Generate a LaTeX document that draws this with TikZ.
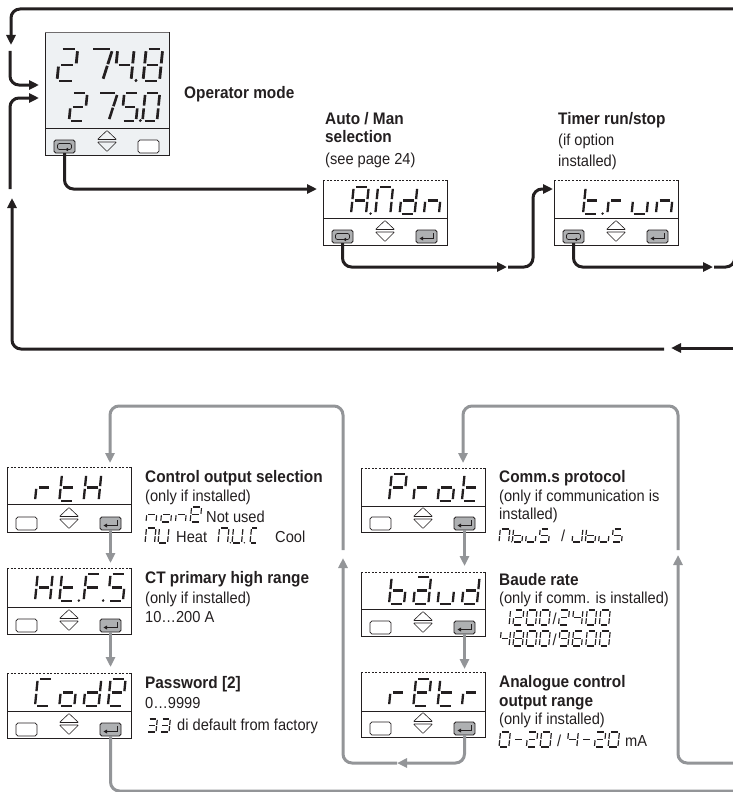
\documentclass[tikz,border=0pt]{standalone}
\usepackage{fontspec}
\setmainfont[FakeStretch=0.92]{Liberation Sans}
\usetikzlibrary{arrows.meta}
\definecolor{ink}{HTML}{231F20}
\definecolor{midgray}{HTML}{939598}
\definecolor{keygray}{HTML}{AEB0B2}
\definecolor{panel}{HTML}{EEF1F3}
% seven-segment display glyphs
\newcommand\lcdchar[2]{\expandafter\def\csname lcd:#1\endcsname{#2}}
\expandafter\def\csname seg:a\endcsname{\draw (.14,2)--(.86,2);}
\expandafter\def\csname seg:b\endcsname{\draw (1,1.86)--(1,1.1);}
\expandafter\def\csname seg:c\endcsname{\draw (1,.9)--(1,.14);}
\expandafter\def\csname seg:d\endcsname{\draw (.14,0)--(.86,0);}
\expandafter\def\csname seg:e\endcsname{\draw (0,.9)--(0,.14);}
\expandafter\def\csname seg:f\endcsname{\draw (0,1.86)--(0,1.1);}
\expandafter\def\csname seg:g\endcsname{\draw (.16,1)--(.84,1);}
\expandafter\def\csname seg:p\endcsname{\fill (1.3,.03) circle[radius=.6\pgflinewidth];}
% the leaning strokes of the large 7
\expandafter\def\csname seg:h\endcsname{\draw (0,2)--(.88,2);}
\expandafter\def\csname seg:i\endcsname{\draw (1,1.86)--(.85,1.05);}
\expandafter\def\csname seg:j\endcsname{\draw (.83,.95)--(.68,.14);}
\lcdchar{sp}{}
\lcdchar{0}{a,b,c,d,e,f}\lcdchar{1}{b,c}\lcdchar{2}{a,b,g,e,d}\lcdchar{3}{a,b,g,c,d}
\lcdchar{4}{f,g,b,c}\lcdchar{5}{a,f,g,c,d}\lcdchar{6}{a,f,g,e,c,d}\lcdchar{7}{h,i,j}
\lcdchar{8}{a,b,c,d,e,f,g}\lcdchar{9}{a,b,c,d,f,g}
\lcdchar{4.}{f,g,b,c,p}\lcdchar{5.}{a,f,g,c,d,p}
\lcdchar{A.}{a,b,c,e,f,g,p}\lcdchar{M}{a,b,c,e,f}\lcdchar{M.}{a,b,c,e,f,p}
\lcdchar{U}{b,c,d,e,f}\lcdchar{U.}{b,c,d,e,f,p}\lcdchar{C}{a,d,e,f}
\lcdchar{E}{a,b,d,e,f,g}\lcdchar{F.}{a,e,f,g,p}\lcdchar{H}{b,c,e,f,g}\lcdchar{J}{b,c,d,e}
\lcdchar{P}{a,b,e,f,g}\lcdchar{S}{a,f,g,c,d}
\lcdchar{a}{a,b,c,d,e,g}\lcdchar{b}{c,d,e,f,g}\lcdchar{d}{b,c,d,e,g}\lcdchar{n}{c,e,g}
\lcdchar{o}{c,d,e,g}\lcdchar{r}{e,g}\lcdchar{t}{d,e,f,g}\lcdchar{t.}{d,e,f,g,p}
\lcdchar{u}{c,d,e}\lcdchar{minus}{g}
% #1 line width, #2 x, #3 baseline y, #4 pitch, #5 glyph width, #6 glyph height, #7 characters
\newcommand\lcdstr[7]{%
  \begin{scope}[shift={(#2,#3)},xslant=.1,x=#5pt,y=#6pt/2,line width=#1pt,draw=ink,fill=ink]
    \foreach \lc [count=\li from 0] in {#7}{%
      \begin{scope}[xshift=\li*#4pt]
        \edef\seglist{\csname lcd:\lc\endcsname}%
        \foreach \ls in \seglist {\csname seg:\ls\endcsname}%
      \end{scope}}
  \end{scope}}
\newcommand\slots[3]{\lcdstr{2.3}{#1}{#2}{24.3}{15}{27}{#3}}
% keys
\tikzset{
  key/.style={draw=ink,line width=.9pt,rounded corners=1.8pt,minimum width=21pt,minimum height=13pt,inner sep=0pt,outer sep=0pt},
  blackflow/.style={draw=ink,line width=3pt,rounded corners=9pt},
  grayflow/.style={draw=midgray,line width=3pt,rounded corners=9pt},
  blackarrow/.style={blackflow,-{Triangle[length=10pt,width=9pt]}},
  grayarrow/.style={grayflow,-{Triangle[length=10pt,width=9pt]}},
  head/.style={anchor=base west,inner sep=0pt,font=\fontsize{16.7}{18}\selectfont\bfseries,text=ink},
  body/.style={anchor=base west,inner sep=0pt,font=\fontsize{15.9}{18}\selectfont,text=ink},
}
\newcommand\keyblank[3]{\node[key,fill=white,line width=.7pt,draw=ink] (#1) at (#2,#3) {};}
\newcommand\keyloop[3]{\node[key,fill=keygray] (#1) at (#2,#3) {};
  \draw[ink,line width=.7pt,rounded corners=2pt] (#2+1,#3+3)--(#2-7,#3+3)--(#2-7,#3-3)--(#2+7,#3-3)--(#2+7,#3+3)--(#2+3,#3+3);
  \fill[ink] (#2+.5,#3+3)--(#2+3.5,#3+1.2)--(#2+3.5,#3+4.8)--cycle;}
\newcommand\keyenter[3]{\node[key,fill=keygray] (#1) at (#2,#3) {};
  \draw[ink,line width=.8pt] (#2+6.5,#3-3.5)--(#2+6.5,#3+2)--(#2-4,#3+2);
  \fill[ink] (#2-7,#3+2)--(#2-3.5,#3)--(#2-3.5,#3+4)--cycle;}
% #1 name #2 x #3 top #4 divider #5 bottom #6/#7 left and right key #8 fill #9 top-edge style
\newcommand\device[9]{%
  \node[fill=#8,minimum width=124pt,minimum height=#5pt-#3pt,inner sep=0pt,outer sep=0pt,anchor=north west] (#1) at (#2,#3) {};
  \draw[ink,line width=.7pt] (#1.north west)--(#1.south west)--(#1.south east)--(#1.north east);
  \draw[ink,line width=.7pt] (#2,#4)--(#2+124,#4);
  \draw[ink,#9] (#1.north west)--(#1.north east);
  \csname key#6\endcsname{#1-l}{#2+19.5}{#5-8.5}
  \csname key#7\endcsname{#1-r}{#2+103.5}{#5-8.5}
  \draw[ink,line width=.6pt,rounded corners=.6pt] (#2+52.5,#5-15.5)--(#2+62,#5-24.5)--(#2+71.5,#5-15.5)--cycle;
  \draw[ink,line width=.6pt,rounded corners=.6pt] (#2+52.5,#5-13)--(#2+62,#5-3.5)--(#2+71.5,#5-13)--cycle;
}
\begin{document}
\begin{tikzpicture}[x=1pt,y=-1pt]
\useasboundingbox (0,0) rectangle (733,792);
\clip (0,0) rectangle (733,792);
\tikzset{dashtop/.style={line width=.7pt,dash pattern=on 2pt off 1.6pt},soltop/.style={line width=.7pt,draw=ink!65}}
% devices
\device{oper}{45}{32}{128}{155}{loop}{blank}{panel}{soltop}
\device{aman}{323}{180}{218}{245}{loop}{enter}{white}{dashtop}
\device{trun}{554}{180}{218}{245}{loop}{enter}{white}{dashtop}
\device{rth}{7}{467}{504}{532}{blank}{enter}{white}{dashtop}
\device{htfs}{7}{568}{607}{634}{blank}{enter}{white}{dashtop}
\device{code}{7}{673}{711}{738}{blank}{enter}{white}{dashtop}
\device{prot}{361}{468}{506}{532}{blank}{enter}{white}{dashtop}
\device{baud}{361}{572}{609}{636}{blank}{enter}{white}{dashtop}
\device{retr}{361}{672}{711}{737}{blank}{enter}{white}{dashtop}
% display readings
\lcdstr{2.8}{57}{81}{0}{17.5}{32}{2}
\lcdstr{2.8}{90}{81}{0}{19}{32}{7}
\lcdstr{2.8}{114.5}{81}{0}{16.5}{32}{4.}
\lcdstr{2.8}{143}{81}{0}{16.5}{32}{8}
\lcdstr{2.6}{69}{121}{0}{15.5}{28}{2}
\lcdstr{2.6}{97.5}{121}{0}{17}{28}{7}
\lcdstr{2.6}{121.5}{121}{0}{14.5}{28}{5.}
\lcdstr{2.6}{142.5}{121}{0}{14.5}{28}{0}
\slots{351}{214}{A.,M,d,n}
\slots{583}{214}{t.,r,u,n}
\slots{35}{501}{r,t,H}
\slots{35}{601}{H,t.,F.,S}
\slots{35}{706}{C,o,d,E}
\slots{389}{501}{P,r,o,t}
\slots{389}{604}{b,a,u,d}
\slots{389}{706}{r,E,t,r}
% connectors: black
\coordinate (topright) at (733,9);
\coordinate (tipa) at (11,45);
\coordinate (starta) at (10,51);
\coordinate (bendb) at (10,85);
\coordinate (tipb) at (39,85);
\coordinate (startc) at (10,189);
\coordinate (bendc) at (10,98);
\coordinate (tipc) at (39,98);
\coordinate (tipaman) at (317,189);
\coordinate (tipj) at (507,267);
\coordinate (startj) at (508,267);
\coordinate (bendj) at (533,267);
\coordinate (bendk) at (533,189);
\coordinate (tiptrun) at (553,189);
\coordinate (tipk) at (713,267);
\coordinate (startk) at (714,267);
\coordinate (edgeup) at (734.8,160);
\coordinate (backright) at (733,348);
\coordinate (backtip) at (671,348);
\coordinate (backstart) at (664,349);
\coordinate (backtop) at (12,198);
\draw[blackarrow] (topright)-|(tipa);
\draw[blackarrow] (starta)--(bendb)--(tipb);
\draw[blackarrow] (startc)--(bendc)--(tipc);
\draw[blackarrow] (oper-l.south)|-(tipaman);
\draw[blackarrow] (aman-l.south)|-(tipj);
\draw[blackarrow] (startj)--(bendj)--(bendk)--(tiptrun);
\draw[blackarrow] (trun-l.south)|-(tipk);
\draw[blackflow] (startk)-|(edgeup);
\draw[blackarrow] (backright)--(backtip);
\draw[blackarrow] (backstart)-|(backtop);
% connectors: gray
\coordinate (gatop) at (343,550);
\coordinate (gatip) at (110,463);
\coordinate (gbtop) at (678,550);
\coordinate (gbtip) at (463,463);
\coordinate (grtip) at (397,763);
\coordinate (gupb) at (343,558);
\coordinate (gbotright) at (733,763);
\coordinate (gupc) at (678,555);
\coordinate (gcodeend) at (733,791);
\coordinate (thtfs) at (110.5,563);
\coordinate (tcode) at (110.5,667);
\coordinate (tbaud) at (464.5,566);
\coordinate (tretr) at (464.5,669);
\coordinate (gacorner) at (110,406);
\coordinate (gbcorner) at (463,406);
\draw[grayarrow] (gatop)|-(gacorner)--(gatip);
\draw[grayarrow] (gbtop)|-(gbcorner)--(gbtip);
\draw[grayarrow] (rth-r.south)--(thtfs);
\draw[grayarrow] (htfs-r.south)--(tcode);
\draw[grayflow] (code-r.south)|-(gcodeend);
\draw[grayarrow] (prot-r.south)--(tbaud);
\draw[grayarrow] (baud-r.south)--(tretr);
\draw[grayarrow] (retr-r.south)|-(grtip);
\draw[grayarrow] (grtip)-|(gupb);
\draw[grayarrow] (gbotright)-|(gupc);
% labels
\node[head] (t1) at (184,98.5) {Operator mode};
\node[head] (t2) at (325,124.5) {Auto / Man};
\node[head] (t3) at (325,142.5) {selection};
\node[body] (t4) at (325,164) {(see page 24)};
\node[head] (t5) at (558,124.5) {Timer run/stop};
\node[body] (t6) at (558,145) {(if option};
\node[body] (t7) at (558,166) {installed)};
\node[head] (t8) at (145,482.5) {Control output selection};
\node[body] (t9) at (145,501) {(only if installed)};
\node[body] (t10) at (206,522) {Not used};
\node[body] (t11) at (176,542) {Heat};
\node[body] (t12) at (275,542) {Cool};
\node[head] (t13) at (145,583.5) {CT primary high range};
\node[body] (t14) at (145,603) {(only if installed)};
\node[body] (t15) at (145,622) {10…200 A};
\node[head] (t16) at (145,688.5) {Password [2]};
\node[body] (t17) at (145,708) {0…9999};
\node[body] (t18) at (177,730) {di default from factory};
\node[head] (t19) at (499,482.5) {Comm.s protocol};
\node[body] (t20) at (499,501) {(only if communication is};
\node[body] (t21) at (499,519) {installed)};
\node[head] (t22) at (499,585.5) {Baude rate};
\node[body] (t23) at (499,603) {(only if comm. is installed)};
\node[head] (t24) at (499,687.5) {Analogue control};
\node[head] (t25) at (499,706.5) {output range};
\node[body] (t26) at (499,724) {(only if installed)};
\node[body] (t27) at (625,746) {mA};
\node[body] (s1) at (561,541) {/};
\node[body] (s2) at (552.5,624.5) {/};
\node[body] (s3) at (552.5,645.5) {/};
\node[body] (s4) at (557,746.5) {/};
% inline display strings
\lcdstr{1.1}{146}{522}{14.7}{10}{15}{n,o,n,E}
\lcdstr{1.2}{145}{543}{13}{9.5}{15}{M,U}
\lcdstr{1.2}{218}{543}{14}{9.5}{15}{M.,U.}
\lcdstr{1.2}{250}{543}{0}{6.5}{15}{C}
\lcdstr{1.2}{147}{732}{13}{9}{13}{3,3}
\lcdstr{1.2}{499}{542}{13.3}{9.6}{13}{M.,b,u,S}
\lcdstr{1.2}{572}{542}{13.3}{9.6}{13}{J,b,u,S}
\lcdstr{1.15}{499.7}{625}{13.2}{9.4}{15}{1,2,0,0}
\lcdstr{1.15}{558.5}{625}{13.6}{9.4}{15}{2,4,0,0}
\lcdstr{1.15}{499.7}{646}{13.2}{9.4}{15}{4,8,0,0}
\lcdstr{1.15}{558.5}{646}{13.6}{9.4}{15}{9,6,0,0}
\lcdstr{1.2}{499}{747}{13.7}{9.8}{15}{0,minus,2,0}
\lcdstr{1.2}{567}{747}{13.7}{9.8}{15}{4,minus,2,0}
\end{tikzpicture}
\end{document}
